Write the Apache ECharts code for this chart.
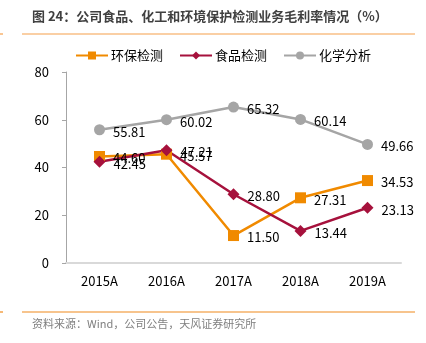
<!DOCTYPE html>
<html>
<head>
<meta charset="utf-8">
<script src="https://cdn.jsdelivr.net/npm/echarts@6/dist/echarts.min.js"></script>
<style>
  html, body { margin: 0; padding: 0; background: #fff; }
  #chart { width: 426px; height: 343px; }
</style>
</head>
<body>
<div id="chart"></div>
<script>
// Gross margin by business line, 2015A–2019A (%)
var categories = ['2015A', '2016A', '2017A', '2018A', '2019A'];
var envTesting = [44.60, 45.57, 11.50, 27.31, 34.53];   // 环保检测
var foodTesting = [42.45, 47.21, 28.80, 13.44, 23.13];  // 食品检测
var chemAnalysis = [55.81, 60.02, 65.32, 60.14, 49.66]; // 化学分析
var yTicks = [0, 20, 40, 60, 80];

var FONT = '"Noto Sans CJK SC", "Noto Sans", sans-serif';

function lineSeries(name, data, color, symbol, size) {
  return {
    name: name,
    type: 'line',
    data: data,
    symbol: symbol,
    symbolSize: size,
    lineStyle: { color: color, width: 2.5 },
    itemStyle: { color: color },
    label: {
      show: true,
      position: 'right',
      distance: 8,
      offset: [0, 2],
      color: '#000',
      fontSize: 13,
      fontFamily: FONT,
      formatter: function (p) { return p.value.toFixed(2); }
    },
    animation: false
  };
}

var chart = echarts.init(document.getElementById('chart'), null, { renderer: 'canvas' });
chart.setOption({
  backgroundColor: '#fff',
  animation: false,
  title: {
    text: '图 24：公司食品、化工和环境保护检测业务毛利率情况（%）',
    left: 27,
    top: 5,
    textStyle: { fontSize: 13, fontWeight: 'bold', color: '#404040', fontFamily: FONT }
  },
  graphic: [
    { type: 'line', shape: { x1: 22, y1: 34, x2: 415, y2: 34 }, style: { stroke: '#F5A04A', lineWidth: 1.2 } },
    { type: 'line', shape: { x1: 0, y1: 34, x2: 3, y2: 34 }, style: { stroke: '#F5A04A', lineWidth: 1.2 } },
    { type: 'line', shape: { x1: 22, y1: 312, x2: 415, y2: 312 }, style: { stroke: '#F08A1C', lineWidth: 1.2 } },
    { type: 'line', shape: { x1: 0, y1: 312, x2: 3, y2: 312 }, style: { stroke: '#F08A1C', lineWidth: 1.2 } },
    {
      type: 'text', left: 32, top: 318,
      style: { text: '资料来源：Wind，公司公告，天风证券研究所', fill: '#7f7f7f', font: '11px ' + FONT }
    }
  ],
  legend: {
    top: 44,
    left: 70,
    itemWidth: 32,
    itemHeight: 10,
    itemGap: 16,
    textStyle: { fontSize: 13, color: '#000', fontFamily: FONT, padding: [0, 0, 0, -2] },
    data: ['环保检测', '食品检测', '化学分析']
  },
  grid: { left: 66, right: 25, top: 72, bottom: 80, containLabel: false },
  xAxis: {
    type: 'category',
    data: categories,
    boundaryGap: true,
    axisLine: { lineStyle: { color: '#d9d9d9', width: 2 } },
    axisTick: { show: false },
    axisLabel: { color: '#000', fontSize: 13, fontFamily: FONT, margin: 12 }
  },
  yAxis: {
    type: 'value',
    min: yTicks[0],
    max: yTicks[yTicks.length - 1],
    interval: 20,
    axisLine: { show: true, lineStyle: { color: '#a6a6a6', width: 1 } },
    axisTick: { show: true, length: 4, lineStyle: { color: '#a6a6a6' } },
    splitLine: { show: false },
    axisLabel: { color: '#000', fontSize: 13, fontFamily: FONT, margin: 17 }
  },
  series: [
    lineSeries('环保检测', envTesting, '#F08A00', 'rect', 11),
    lineSeries('食品检测', foodTesting, '#A6113C', 'diamond', 12),
    lineSeries('化学分析', chemAnalysis, '#A5A5A5', 'circle', 11)
  ]
});
</script>
</body>
</html>
